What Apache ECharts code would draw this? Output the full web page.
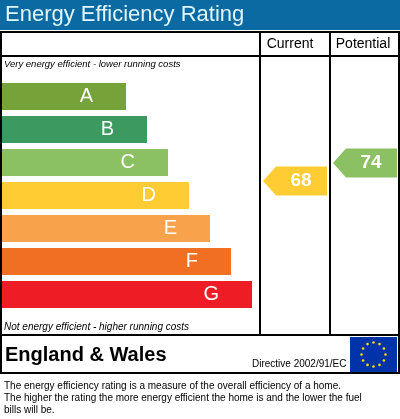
<!DOCTYPE html><html><head><meta charset="utf-8"><script src="https://cdn.jsdelivr.net/npm/echarts@6/dist/echarts.min.js"></script>
<style>body{margin:0}#c{width:400px;height:419px}</style></head><body><div id="c"></div><script>
const bands=['A','B','C','D','E','F','G'];
const ranges=['(92-100)','(81-91)','(69-80)','(55-68)','(39-54)','(21-38)','(1-20)'];
const widths=[124,145,166,187,208,229,250];
const colors=['#76a339','#3c9a61','#8cc163','#ffcc33','#f8a24c','#f06f22','#ee1c24'];
const current=68, potential=74;
const F='Liberation Sans, Arial, sans-serif';
function bandOf(v){return v>=92?0:v>=81?1:v>=69?2:v>=55?3:v>=39?4:v>=21?5:6;}
const chart=echarts.init(document.getElementById('c'));
function arrow(x0,x1,val){return {type:'custom',xAxisIndex:1,yAxisIndex:1,data:[[x0,val]],
 renderItem:(p,api)=>{const a=api.coord([x0,val]),b=api.coord([x1,val]);const y=a[1],h=14.5;
  return {type:'group',children:[{type:'polygon',shape:{points:[[a[0],y],[a[0]+13,y-h],[b[0],y-h],[b[0],y+h],[a[0]+13,y+h]]},style:{fill:colors[bandOf(val)]}},
  {type:'text',style:{text:String(val),x:(a[0]+b[0])/2+6,y:y,align:'center',verticalAlign:'middle',fill:'#fff',font:'bold 19px '+F}}]};}};}
const L={type:'line',style:{stroke:'#000',lineWidth:2}};
chart.setOption({animation:false,
grid:[{left:2,top:80,width:398,height:231},{left:0,top:85,width:400,height:297}],
xAxis:[{type:'value',gridIndex:0,min:0,max:398,show:false},{type:'value',gridIndex:1,min:0,max:400,show:false}],
yAxis:[{type:'category',gridIndex:0,data:bands,inverse:true,show:false},{type:'value',gridIndex:1,min:1,max:100,show:false}],
graphic:[
 {type:'rect',shape:{x:0,y:0,width:400,height:30},style:{fill:'#0b6aa2'}},
 {type:'text',style:{text:'Energy Efficiency Rating',x:5,y:15,verticalAlign:'middle',fill:'#dff6ff',font:'22px '+F}},
 {type:'rect',shape:{x:1,y:32,width:398,height:341},style:{fill:'none',stroke:'#000',lineWidth:2}},
 Object.assign({shape:{x1:1,y1:56,x2:399,y2:56}},L),
 Object.assign({shape:{x1:260,y1:32,x2:260,y2:335}},L),
 Object.assign({shape:{x1:330,y1:32,x2:330,y2:335}},L),
 Object.assign({shape:{x1:1,y1:335,x2:399,y2:335}},L),
 {type:'text',style:{text:'Current',x:290,y:44,align:'center',verticalAlign:'middle',fill:'#000',font:'14px '+F}},
 {type:'text',style:{text:'Potential',x:363,y:44,align:'center',verticalAlign:'middle',fill:'#000',font:'14px '+F}},
 {type:'text',style:{text:'Very energy efficient - lower running costs',x:4,y:64,verticalAlign:'middle',fill:'#000',font:'italic 9.5px '+F}},
 {type:'text',style:{text:'Not energy efficient - higher running costs',x:4,y:327,verticalAlign:'middle',fill:'#000',font:'italic 10px '+F}},
 {type:'text',style:{text:'England & Wales',x:5,y:355,verticalAlign:'middle',fill:'#000',font:'bold 20px '+F}},
 {type:'text',style:{text:'Directive 2002/91/EC',x:252,y:364,verticalAlign:'middle',fill:'#000',font:'10px '+F}},
 {type:'rect',shape:{x:350,y:337,width:47,height:35},style:{fill:'#0033aa'}},
 ...Array.from({length:12},(_,i)=>({type:'circle',shape:{cx:373.5+12*Math.sin(i*Math.PI/6),cy:354.5-12*Math.cos(i*Math.PI/6),r:1.3},style:{fill:'#ffdd00'}})),
 {type:'text',style:{text:'The energy efficiency rating is a measure of the overall efficiency of a home.\nThe higher the rating the more energy efficient the home is and the lower the fuel\nbills will be.',x:4,y:380,fill:'#000',font:'10px '+F,lineHeight:12}}
],
series:[{type:'bar',data:widths.map((w,i)=>({value:w,itemStyle:{color:colors[i]}})),barWidth:27,
 label:{show:true,position:'insideRight',formatter:p=>bands[p.dataIndex],color:'#fff',fontFamily:F,fontSize:20,offset:[-28,0]}},
 {type:'custom',data:widths.map((w,i)=>[0,i]),renderItem:(p,api)=>{const c=api.coord([0,api.value(1)]);
  return {type:'text',style:{text:ranges[p.dataIndex],x:c[0]+5,y:c[1],verticalAlign:'middle',fill:p.dataIndex==6?'#a00':'#222',font:'8.5px '+F}};}},
 arrow(263,327,current),arrow(333,397,potential)]});
</script></body></html>
